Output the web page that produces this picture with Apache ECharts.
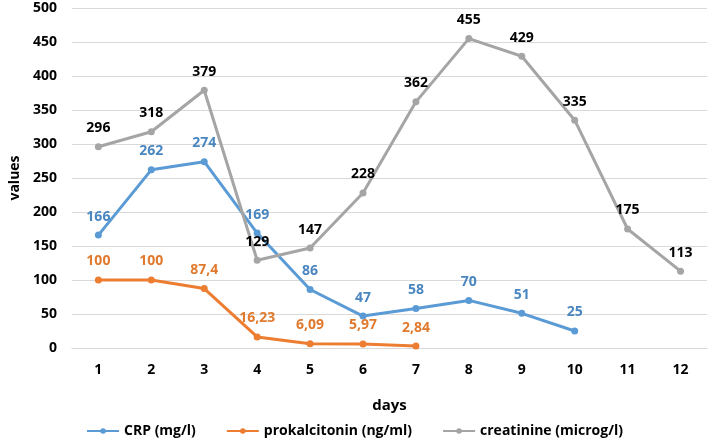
<!DOCTYPE html>
<html>
<head>
<meta charset="utf-8">
<script src="https://cdn.jsdelivr.net/npm/echarts@6/dist/echarts.min.js"></script>
<style>
  html, body { margin: 0; padding: 0; background: #fff; }
  #main { width: 709px; height: 447px; }
</style>
</head>
<body>
<div id="main"></div>
<script>
var days = ['1', '2', '3', '4', '5', '6', '7', '8', '9', '10', '11', '12'];
var crp = [166, 262, 274, 169, 86, 47, 58, 70, 51, 25];
var prokalcitonin = [100, 100, 87.4, 16.23, 6.09, 5.97, 2.84];
var creatinine = [296, 318, 379, 129, 147, 228, 362, 455, 429, 335, 175, 113];
var yTicks = [0, 50, 100, 150, 200, 250, 300, 350, 400, 450, 500];

var font = 'Open Sans';

function commaLabel(p) {
  return String(p.value).replace('.', ',');
}

function makeSeries(name, data, color, labelColor) {
  return {
    name: name,
    type: 'line',
    data: data,
    symbol: 'circle',
    symbolSize: 7,
    lineStyle: { width: 3, color: color },
    itemStyle: { color: color },
    label: {
      show: true,
      position: 'top',
      distance: 8,
      color: labelColor,
      fontFamily: font,
      fontWeight: 'bold',
      fontSize: 14,
      formatter: commaLabel
    }
  };
}

var chart = echarts.init(document.getElementById('main'), null, { renderer: 'canvas' });

var option = {
  animation: false,
  backgroundColor: '#fff',
  grid: { left: 63, right: 2, top: 8, bottom: 99 },
  legend: {
    bottom: 4,
    left: 'center',
    itemWidth: 32,
    itemHeight: 7,
    itemGap: 30,
    textStyle: { fontFamily: font, fontWeight: 'bold', fontSize: 14, color: '#000' },
    data: ['CRP (mg/l)', 'prokalcitonin (ng/ml)', 'creatinine (microg/l)']
  },
  xAxis: {
    type: 'category',
    data: days,
    name: 'days',
    nameLocation: 'middle',
    nameGap: 50,
    nameTextStyle: { fontFamily: font, fontWeight: 'bold', fontSize: 15, color: '#000' },
    axisLine: { lineStyle: { color: '#d9d9d9' } },
    axisTick: { show: false },
    axisLabel: { fontFamily: font, fontWeight: 'bold', fontSize: 14, color: '#000', margin: 15 }
  },
  yAxis: {
    type: 'value',
    min: yTicks[0],
    max: yTicks[yTicks.length - 1],
    interval: 50,
    name: 'values',
    nameLocation: 'middle',
    nameGap: 47,
    nameTextStyle: { fontFamily: font, fontWeight: 'bold', fontSize: 14, color: '#000' },
    axisLine: { show: false },
    axisTick: { show: false },
    splitLine: { lineStyle: { color: '#d9d9d9', width: 1 } },
    axisLabel: { fontFamily: font, fontWeight: 'bold', fontSize: 14, color: '#000', margin: 15 }
  },
  series: [
    makeSeries('CRP (mg/l)', crp, '#5b9bd5', '#4a86c0'),
    makeSeries('prokalcitonin (ng/ml)', prokalcitonin, '#ed7d31', '#e07a2e'),
    makeSeries('creatinine (microg/l)', creatinine, '#a5a5a5', '#000')
  ]
};

chart.setOption(option);
</script>
</body>
</html>
